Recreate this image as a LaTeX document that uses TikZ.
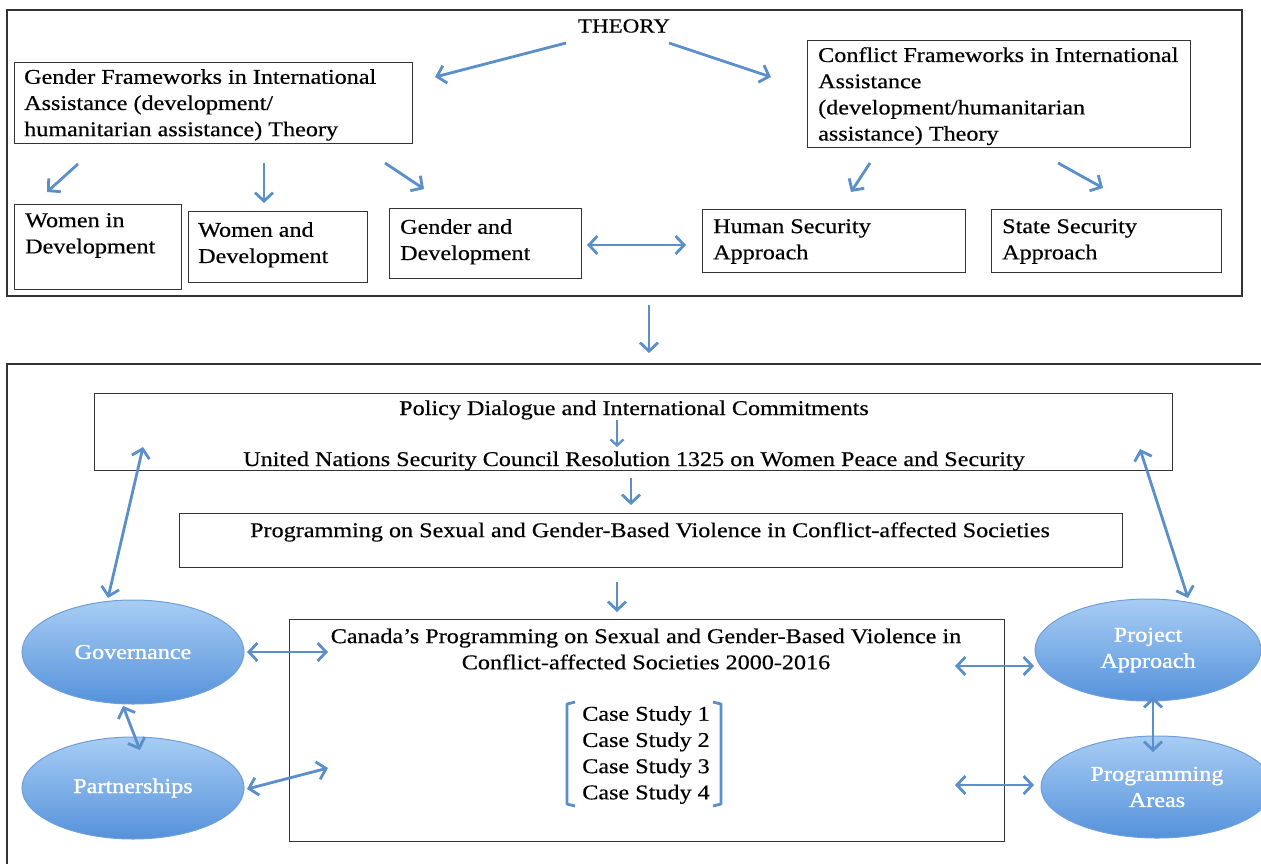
\documentclass[tikz,border=0pt]{standalone}
\usepackage{fontspec}
\setmainfont{Liberation Serif}[FakeStretch=1.15, FakeBold=0.4]
\newfontfamily\ellfont{Liberation Serif}[FakeStretch=1.15, FakeBold=1.2]
\usetikzlibrary{arrows.meta,shapes.geometric}
\definecolor{arr}{HTML}{5B8FC9}
\definecolor{ellA}{HTML}{A8CDF4}
\definecolor{ellB}{HTML}{5592DB}
\definecolor{ellD}{HTML}{6F9FD8}
\definecolor{frame}{HTML}{333333}
\tikzset{bt/.tip={Straight Barb[length=8.5pt,width=18pt,line width=2.8pt]},
  sbt/.tip={Straight Barb[length=6pt,width=13pt,line width=2.3pt]}}
\begin{document}
\begin{tikzpicture}[x=1pt,y=-1pt,
  box/.style={draw=frame, line width=1.4pt, inner sep=0pt, anchor=north west},
  txt/.style={font=\fontsize{21}{26.2}\selectfont, align=left, inner sep=0pt, anchor=north west},
  ctxt/.style={font=\fontsize{21}{26.2}\selectfont, align=center, inner sep=0pt},
  conn/.style={draw=arr, line width=2.8pt, -{bt}},
  conn2/.style={draw=arr, line width=2.8pt, {bt}-{bt}},
  ell/.style={ellipse, draw=ellD, line width=1pt, top color=ellA, bottom color=ellB,
    inner sep=0pt, text=white, font=\ellfont\fontsize{21}{26.2}\selectfont, align=center}
]
\useasboundingbox (0,0) rectangle (1261,863);
\fill[white] (0,0) rectangle (1261,863);

% ---------- upper section ----------
\draw[draw=frame, line width=1.4pt] (7,10) rectangle (1242,296);
\node[ctxt, font=\fontsize{20}{24}\selectfont] (theory) at (624,26) {THEORY};

\node[box, minimum width=398pt, minimum height=81pt] (gfb) at (14,62) {};
\node[txt] (gfbt) at (24,69) {Gender Frameworks in International\\Assistance (development/\\humanitarian assistance) Theory};

\node[box, minimum width=383pt, minimum height=107pt] (cfb) at (807,40) {};
\node[txt] (cfbt) at (818,47) {Conflict Frameworks in International\\Assistance\\(development/humanitarian\\assistance) Theory};

\node[box, minimum width=167pt, minimum height=85pt] (wid) at (14,204) {};
\node[txt] (widt) at (25,213) {Women in\\Development};
\node[box, minimum width=179pt, minimum height=71pt] (wad) at (188,211) {};
\node[txt] (wadt) at (198,222) {Women and\\Development};
\node[box, minimum width=192pt, minimum height=70pt] (gad) at (389,208) {};
\node[txt] (gadt) at (400,219) {Gender and\\Development};
\node[box, minimum width=263pt, minimum height=63pt] (hsa) at (702,209) {};
\node[txt] (hsat) at (713,219) {Human Security\\Approach};
\node[box, minimum width=230pt, minimum height=63pt] (ssa) at (991,209) {};
\node[txt] (ssat) at (1002,219) {State Security\\Approach};

\coordinate (t1) at (566,43); \coordinate (t1e) at (435,77);
\coordinate (t2) at (669,43); \coordinate (t2e) at (771,77);
\draw[conn] (t1) -- (t1e);
\draw[conn] (t2) -- (t2e);

\coordinate (g1) at (78,164);  \coordinate (g1e) at (47,192);
\coordinate (g2) at (264,163); \coordinate (g2e) at (264,203);
\coordinate (g3) at (385,163); \coordinate (g3e) at (424,189);
\draw[conn] (g1) -- (g1e);
\draw[conn] (g2) -- (g2e);
\draw[conn] (g3) -- (g3e);

\coordinate (c1) at (870,163);  \coordinate (c1e) at (851,192);
\coordinate (c2) at (1058,163); \coordinate (c2e) at (1103,188);
\draw[conn] (c1) -- (c1e);
\draw[conn] (c2) -- (c2e);

\coordinate (gh1) at (587,245); \coordinate (gh2) at (686,245);
\draw[conn2] (gh1) -- (gh2);

\coordinate (m1) at (649,305); \coordinate (m2) at (649,353);
\draw[conn] (m1) -- (m2);

% ---------- lower section ----------
\draw[draw=frame, line width=1.4pt] (7,880) -- (7,364) -- (1280,364);

\node[box, minimum width=1078pt, minimum height=77pt] (pol) at (94,393) {};
\node[ctxt] (polt1) at (634,410) {Policy Dialogue and International Commitments};
\node[ctxt] (polt2) at (634,461) {United Nations Security Council Resolution 1325 on Women Peace and Security};
\coordinate (p1) at (617,420); \coordinate (p2) at (617,447);
\draw[draw=arr, line width=2.3pt, -{sbt}] (p1) -- (p2);

\coordinate (q1) at (631,478); \coordinate (q2) at (631,505);
\draw[conn] (q1) -- (q2);

\node[box, minimum width=943pt, minimum height=54pt] (prog) at (179,513) {};
\node[ctxt] (progt) at (650,532) {Programming on Sexual and Gender-Based Violence in Conflict-affected Societies};

\coordinate (r1) at (617,582); \coordinate (r2) at (617,612);
\draw[conn] (r1) -- (r2);

\node[box, minimum width=715pt, minimum height=222pt] (can) at (289,619) {};
\node[ctxt] (cant) at (646,649) {Canada's Programming on Sexual and Gender-Based Violence in\\Conflict-affected Societies 2000-2016};
\node[ctxt] (cases) at (646,755) {Case Study 1\\Case Study 2\\Case Study 3\\Case Study 4};
\draw[draw=arr, line width=2.8pt, line join=round] (575,702) -- (567,704) -- (567,804) -- (575,806);
\draw[draw=arr, line width=2.8pt, line join=round] (713,702) -- (721,704) -- (721,804) -- (713,806);

\node[ell, minimum width=222pt, minimum height=104pt] (gov) at (133,652) {Governance};
\node[ell, minimum width=222pt, minimum height=102pt] (par) at (133,788) {Partnerships};
\node[ell, minimum width=226pt, minimum height=102pt] (pra) at (1148,650) {Project\\Approach};
\node[ell, minimum width=232pt, minimum height=102pt] (pga) at (1157,787) {Programming\\Areas};

\coordinate (a1) at (247,652); \coordinate (a1e) at (328,652);
\draw[conn2] (a1) -- (a1e);
\coordinate (a2) at (247,789); \coordinate (a2e) at (328,768);
\draw[conn2] (a2) -- (a2e);
\coordinate (a3) at (955,666); \coordinate (a3e) at (1034,666);
\draw[conn2] (a3) -- (a3e);
\coordinate (a4) at (955,785); \coordinate (a4e) at (1034,785);
\draw[conn2] (a4) -- (a4e);
\coordinate (a5) at (123,706); \coordinate (a5e) at (140,750);
\draw[conn2] (a5) -- (a5e);
\coordinate (a6) at (1153,697); \coordinate (a6e) at (1153,752);
\draw[conn2] (a6) -- (a6e);
\coordinate (a7) at (108,598); \coordinate (a7e) at (143,447);
\draw[conn2] (a7) -- (a7e);
\coordinate (a8) at (1188,598); \coordinate (a8e) at (1140,449);
\draw[conn2] (a8) -- (a8e);
\end{tikzpicture}
\end{document}
